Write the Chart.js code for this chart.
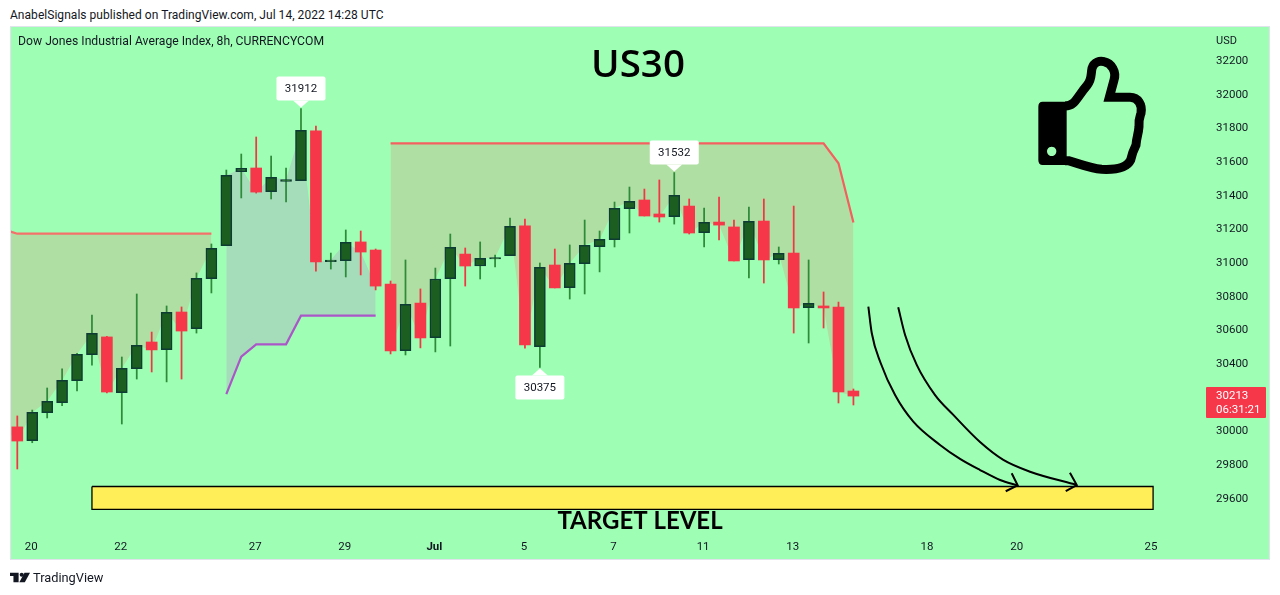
<!DOCTYPE html>
<html>
<head>
<meta charset="utf-8">
<title>US30</title>
<style>
  html, body { margin: 0; padding: 0; background: #fff; width: 1280px; height: 595px; overflow: hidden; font-family: Roboto, sans-serif; color: #131722; }
  #panel { position: absolute; left: 10px; top: 26px; width: 1258px; height: 532px; background: #9effb4; border: 1px solid #e0e3eb; }
  #chart1 { position: absolute; left: 0; top: 0; }
  #head { position: absolute; left: 10px; top: 8px; font-size: 12px; letter-spacing: 0.04px; white-space: nowrap; }
  #foot { position: absolute; left: 33px; top: 570px; font-size: 12.8px; white-space: nowrap; }
  svg { position: absolute; }
</style>
<script src="https://cdn.jsdelivr.net/npm/chart.js@4"></script>
</head>
<body>
<div id="panel"></div>
<div id="head">AnabelSignals published on TradingView.com, Jul 14, 2022 14:28 UTC</div>
<canvas id="chart1" width="1280" height="595"></canvas>
<svg style="left:1000px;top:20px" width="280" height="170" viewBox="0 0 840 510">
  <path d="M128 245 H200 V435 H128 Q115 435 115 420 V260 Q115 245 128 245 Z M155 380 a14 14 0 1 0 0.1 0 Z" fill="#000" fill-rule="evenodd"/>
  <path d="M195 258 C225 258 228 235 262 195 C276 178 272 165 276 145 C282 125 300 122 312 125 C335 130 350 155 342 180 L328 232 L390 232 C415 232 428 255 423 280 C418 295 415 300 417 320 C415 345 410 350 408 375 C398 395 396 400 392 420 C380 445 345 450 305 448 C270 445 240 432 205 422 L195 422" fill="none" stroke="#000" stroke-width="27"/>
</svg>
<svg style="left:10px;top:572px" width="20" height="11" viewBox="0 0 58 28">
  <path d="M0 0 H25 V28 H10 V10 H0 Z" fill="#131722"/>
  <circle cx="34" cy="6" r="6" fill="#131722"/>
  <path d="M42 0 H58 L43 28 H27 Z" fill="#131722"/>
</svg>
<div id="foot">TradingView</div>
<script>
// 8h candles, bar -1 only sits off the left edge so the shading reaches the border
const barIdx = [-1,0,1,2,3,4,5,6,7,8,9,10,11,12,13,14,15,16,17,18,19,20,21,22,23,24,25,26,27,28,29,30,31,32,33,34,35,36,37,38,39,40,41,42,43,44,45,46,47,48,49,50,51,52,53,54,55,56];
const opens = [30060,30022,29940,30106,30166,30296,30451,30556,30225,30368,30526,30480,30704,30605,30902,31098,31537,31559,31418,31480,31484,31779,31003,31009,31120,31072,30870,30475,30757,30552,30902,31048,30977,31019,31039,31215,30498,30983,30849,30991,31092,31134,31317,31369,31286,31270,31333,31175,31238,31209,31015,31244,31015,31054,30730,30740,30734,30235];
const highs = [30080,30087,30122,30253,30366,30459,30686,30560,30437,30811,30585,30740,30734,30936,31108,31547,31642,31743,31630,31559,31912,31808,31054,31191,31185,31078,30888,31013,30841,30965,31167,31084,31120,31042,31262,31256,30995,31078,31102,31250,31185,31357,31446,31434,31488,31532,31375,31321,31387,31250,31327,31375,31090,31333,31013,30823,30763,30247];
const lows = [29990,29772,29928,30075,30148,30235,30389,30223,30039,30306,30348,30289,30306,30579,30817,31098,31381,31410,31375,31357,31484,30947,30959,30912,30924,30835,30455,30449,30491,30467,30502,30858,30900,30971,31039,30490,30375,30847,30781,30811,30942,31090,31173,31274,31238,31226,31167,31090,31132,31007,30906,30876,30989,30579,30520,30609,30164,30152];
const closes = [30020,29938,30108,30174,30298,30453,30577,30229,30370,30506,30479,30702,30591,30904,31082,31515,31557,31416,31503,31490,31782,31001,31013,31118,31060,30858,30473,30750,30550,30900,31088,30977,31023,31027,31213,30508,30969,30847,30993,31100,31135,31320,31361,31274,31268,31397,31173,31236,31220,31007,31242,31013,31052,30728,30756,30728,30229,30205];

// shaded indicator bands (start bar + values)
const bandAStart = -1;
const bandA = [31196,31169,31169,31169,31169,31169,31169,31169,31169,31169,31169,31169,31169,31169,31169];
const bandBStart = 14;
const bandB = [30217,30439,30512,30512,30512,30682,30682,30682,30682,30682,30682];
const bandCStart = 25;
const bandC = [31705,31705,31705,31705,31705,31705,31705,31705,31705,31705,31705,31705,31705,31705,31705,31705,31705,31705,31705,31705,31705,31705,31705,31705,31705,31705,31705,31705,31705,31705,31587,31236];

// target zone
const zoneX = [5.0,76.07,76.07,5.0,5.0];
const zoneY = [29668,29668,29532,29532,29668];

// hand drawn arrows, in bar index / price
const arrow1X = [57.0,57.23,57.83,58.79,60.01,61.80,63.14,64.48,65.82,67.0];
const arrow1Y = [30736,30578,30400,30211,30053,29915,29832,29766,29707,29675];
const arrow2X = [59.0,59.46,60.24,61.47,62.69,64.48,66.04,67.83,70.96];
const arrow2Y = [30732,30568,30390,30211,30093,29932,29826,29756,29677];
const head1X = [66.6,67.0,66.2];
const head1Y = [29747,29675,29640];
const head2X = [70.5,70.96,70.22];
const head2Y = [29750,29677,29640];

const xTickIdx = [1,7,16,22,28,34,40,46,52,61,67,76];
const xTickLabels = ['20','22','27','29','Jul','5','7','11','13','18','20','25'];
const yTicks = [29600,29800,30000,30400,30600,30800,31000,31200,31400,31600,31800,32000,32200];

const calloutIdx = [19,35,44];
const calloutVal = [31912,30375,31532];
const calloutDir = [1,-1,1];

const lastPrice = '30213';
const countdown = '06:31:21';

const fontName = 'Roboto, sans-serif';

function pts(xs, ys) {
    return ys.map((y, i) => ({x: xs[i], y: y}));
}
function bandPts(start, vals) {
    return vals.map((y, i) => ({x: start + i, y: y}));
}
function bandSet(start, vals, lineCol, fillCol) {
    return {
        type: 'line',
        data: bandPts(start, vals),
        borderColor: lineCol,
        borderWidth: 2.2,
        pointRadius: 0,
        tension: 0,
        order: 10,
        fill: {target: 0, above: fillCol, below: fillCol}
    };
}
function drawLine(xs, ys, smooth) {
    return {
        type: 'line',
        data: pts(xs, ys),
        borderColor: '#000',
        borderWidth: 2,
        pointRadius: 0,
        tension: 0,
        cubicInterpolationMode: smooth ? 'monotone' : 'default',
        fill: false,
        order: 1
    };
}

const isUp = barIdx.map((b, i) => closes[i] >= opens[i]);

const wickData = barIdx.map((b, i) => ({x: b, y: [lows[i], highs[i]]}));
const bodyData = barIdx.map((b, i) => ({x: b, y: [opens[i], closes[i]]}));

const extras = {
    id: 'extras',
    afterDatasetsDraw(chart) {
        const c = chart.ctx;
        const xs = chart.scales.x;
        const ys = chart.scales.y;
        c.save();
        // callouts
        calloutIdx.forEach((b, i) => {
            const px = xs.getPixelForValue(b);
            const py = ys.getPixelForValue(calloutVal[i]);
            const d = calloutDir[i];
            const w = 49, h = 24;
            const tip = py - d * 1;
            const edge = tip - d * 7;
            const top = d > 0 ? edge - h : edge;
            c.fillStyle = '#fff';
            c.beginPath();
            c.roundRect(px - w / 2, top, w, h, 2);
            c.fill();
            c.beginPath();
            c.moveTo(px - 8, edge);
            c.lineTo(px, tip);
            c.lineTo(px + 8, edge);
            c.closePath();
            c.fill();
            c.fillStyle = '#131722';
            c.font = '11.5px ' + fontName;
            c.textAlign = 'center';
            c.textBaseline = 'middle';
            c.fillText(String(calloutVal[i]), px, top + h / 2 + 0.5);
        });
        c.textBaseline = 'middle';
        c.textAlign = 'left';
        c.fillStyle = '#131722';
        c.font = '12.2px ' + fontName;
        c.fillText('Dow Jones Industrial Average Index, 8h, CURRENCYCOM', 18, 41.5);
        c.font = '11px ' + fontName;
        c.fillText('USD', 1216, 41);
        // big labels
        c.fillStyle = '#000';
        c.textAlign = 'center';
        c.font = '600 38.5px "Open Sans", sans-serif';
        c.fillText('US30', 638, 66.5);
        c.font = 'bold 24px Lato, sans-serif';
        c.fillText('TARGET LEVEL', 640, 521);
        // last price tag
        c.fillStyle = '#f6374a';
        c.beginPath();
        c.roundRect(1206, 387, 60, 31, 1);
        c.fill();
        c.fillStyle = '#fff';
        c.textAlign = 'left';
        c.font = '11.5px ' + fontName;
        c.fillText(lastPrice, 1216, 396);
        c.fillText(countdown, 1216, 410);
        c.restore();
    }
};

const config1 = {
    type: 'bar',
    data: {
        datasets: [
            {
                type: 'line',
                data: pts(barIdx, closes),
                borderColor: 'transparent',
                borderWidth: 0,
                pointRadius: 0,
                tension: 0,
                fill: false,
                order: 11
            },
            bandSet(bandAStart, bandA, '#f4716a', '#b0dfa3'),
            bandSet(bandBStart, bandB, '#ab56c8', '#a5dcb9'),
            bandSet(bandCStart, bandC, '#f4605f', '#b0dfa3'),
            {
                type: 'line',
                data: pts(zoneX, zoneY),
                borderColor: '#000',
                borderWidth: 1.3,
                backgroundColor: '#ffee58',
                pointRadius: 0,
                tension: 0,
                fill: 'shape',
                order: 9
            },
            {
                data: wickData,
                grouped: false,
                barThickness: 1.1,
                backgroundColor: ctx => isUp[ctx.dataIndex] ? '#2e8b3a' : '#f23645',
                order: 5
            },
            {
                data: bodyData,
                grouped: false,
                barThickness: 11,
                minBarLength: 1,
                borderSkipped: false,
                borderWidth: ctx => isUp[ctx.dataIndex] ? 1.5 : 0,
                borderColor: '#0e3b33',
                backgroundColor: ctx => isUp[ctx.dataIndex] ? '#1b5e20' : '#f6374a',
                order: 4
            },
            drawLine(arrow1X, arrow1Y, true),
            drawLine(arrow2X, arrow2Y, true),
            drawLine(head1X, head1Y, false),
            drawLine(head2X, head2Y, false)
        ]
    },
    options: {
        responsive: false,
        animation: false,
        events: [],
        layout: { padding: { left: 11, right: 11, top: 27, bottom: 36 } },
        plugins: { legend: { display: false }, tooltip: { enabled: false } },
        scales: {
            x: {
                type: 'linear',
                min: -0.422,
                max: 79.48,
                offset: false,
                grid: { display: false, drawTicks: false },
                border: { display: false },
                afterFit(s) { s.height = 27; },
                afterBuildTicks(s) { s.ticks = xTickIdx.map(v => ({value: v})); },
                ticks: {
                    autoSkip: false,
                    maxRotation: 0,
                    padding: 8,
                    labelOffset: -1,
                    color: '#131722',
                    font: ctx => ({family: fontName, size: 11.5, weight: ctx.tick && ctx.tick.value === 28 ? 'bold' : 'normal'}),
                    callback: v => xTickLabels[xTickIdx.indexOf(v)]
                }
            },
            y: {
                position: 'right',
                min: 29398,
                max: 32396,
                beginAtZero: false,
                grid: { display: false, drawTicks: false },
                border: { display: false },
                afterFit(s) { s.width = 65; },
                afterBuildTicks(s) { s.ticks = yTicks.map(v => ({value: v})); },
                ticks: {
                    autoSkip: false,
                    padding: 12,
                    labelOffset: 1,
                    crossAlign: 'near',
                    color: '#131722',
                    font: { family: fontName, size: 11.5 },
                    callback: v => String(v)
                }
            }
        }
    },
    plugins: [extras]
};

const chart1 = new Chart(document.getElementById('chart1').getContext('2d'), config1);
</script>
</body>
</html>
